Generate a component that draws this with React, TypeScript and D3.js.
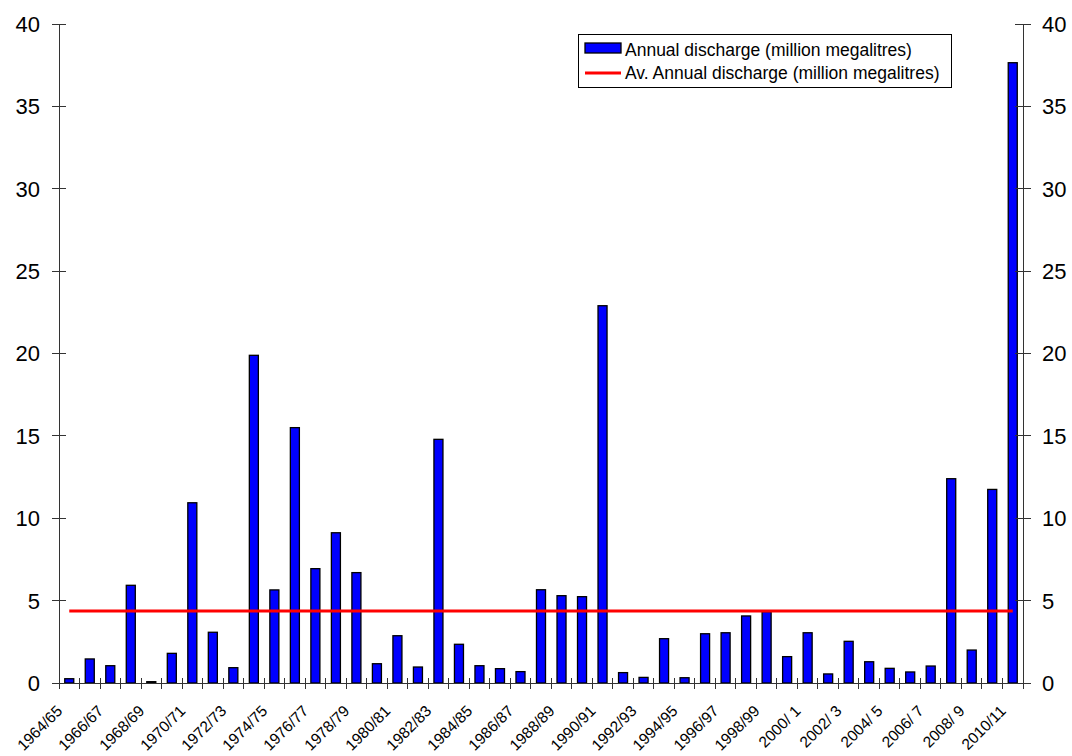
import React from "react";
import * as d3 from "d3";

// categories: water years 1964/65 .. 2010/11
const seasons = [
  "1964/65", "1965/66", "1966/67", "1967/68", "1968/69", "1969/70", "1970/71", "1971/72",
  "1972/73", "1973/74", "1974/75", "1975/76", "1976/77", "1977/78", "1978/79", "1979/80",
  "1980/81", "1981/82", "1982/83", "1983/84", "1984/85", "1985/86", "1986/87", "1987/88",
  "1988/89", "1989/90", "1990/91", "1991/92", "1992/93", "1993/94", "1994/95", "1995/96",
  "1996/97", "1997/98", "1998/99", "1999/ 0", "2000/ 1", "2001/ 2", "2002/ 3", "2003/ 4",
  "2004/ 5", "2005/ 6", "2006/ 7", "2007/ 8", "2008/ 9", "2009/10", "2010/11",
];

// annual discharge, million megalitres
const discharge = [
  0.26, 1.46, 1.05, 5.93, 0.08, 1.8, 10.94, 3.08,
  0.93, 19.89, 5.65, 15.5, 6.94, 9.12, 6.7, 1.17,
  2.87, 0.97, 14.79, 2.35, 1.05, 0.87, 0.69, 5.66,
  5.3, 5.24, 22.9, 0.63, 0.34, 2.69, 0.32, 2.99,
  3.05, 4.07, 4.33, 1.6, 3.05, 0.55, 2.53, 1.29,
  0.89, 0.67, 1.03, 12.4, 2.0, 11.75, 37.65,
];

const average = 4.37;

const yTicks = [0, 5, 10, 15, 20, 25, 30, 35, 40];

const W = 1072;
const H = 756;
const m = { top: 24, right: 49, bottom: 73, left: 59 };
const FONT = "'Liberation Sans', Arial, sans-serif";

export default function App() {
  const x = d3
    .scaleBand<string>()
    .domain(seasons)
    .range([m.left, W - m.right])
    .paddingInner(0.56)
    .paddingOuter(0.28);
  const y = d3.scaleLinear().domain([0, 40]).range([H - m.bottom, m.top]);

  const step = x.step();
  const x0 = m.left;
  const x1 = W - m.right;
  const yBase = y(0);
  const center = (s: string) => (x(s) ?? 0) + x.bandwidth() / 2;

  const avgLine = d3
    .line<string>()
    .x((s) => center(s))
    .y(() => y(average));

  return (
    <div style={{ position: "absolute", left: 0, top: 0 }}>
      <svg width={W} height={H} style={{ display: "block", background: "#fff" }}>
        {/* bars */}
        <g>
          {seasons.map((s, i) => (
            <rect
              key={s}
              x={x(s)}
              y={y(discharge[i])}
              width={x.bandwidth()}
              height={yBase - y(discharge[i])}
              fill="#0000ff"
              stroke="#000"
              strokeWidth={1.3}
            />
          ))}
        </g>

        {/* average line */}
        <path
          d={avgLine([seasons[0], seasons[seasons.length - 1]]) ?? ""}
          stroke="#ff0000"
          strokeWidth={3}
          fill="none"
        />

        {/* axes */}
        <g stroke="#333" strokeWidth={1} shapeRendering="crispEdges">
          <line x1={x0} x2={x0} y1={y(40)} y2={yBase} />
          <line x1={x1} x2={x1} y1={y(40)} y2={yBase} />
          <line x1={x0} x2={x1} y1={yBase} y2={yBase} />
          {yTicks.map((t) => (
            <g key={t}>
              <line x1={x0 - 7} x2={x0 + 7} y1={y(t)} y2={y(t)} />
              <line x1={x1 - 8} x2={x1 + 8} y1={y(t)} y2={y(t)} />
            </g>
          ))}
          {d3.range(seasons.length + 1).map((i) => (
            <line
              key={i}
              x1={x0 + i * step}
              x2={x0 + i * step}
              y1={yBase - 5}
              y2={yBase + 6}
            />
          ))}
        </g>

        {/* y tick labels */}
        <g fontFamily={FONT} fontSize={22} fill="#000">
          {yTicks.map((t) => (
            <g key={t}>
              <text x={x0 - 19} y={y(t)} dy="0.36em" textAnchor="end">
                {t}
              </text>
              <text x={x1 + 19} y={y(t)} dy="0.36em" textAnchor="start">
                {t}
              </text>
            </g>
          ))}
        </g>

        {/* category labels, every other one */}
        <g fontFamily={FONT} fontSize={15.5} fill="#000">
          {seasons.map((s, i) =>
            i % 2 === 0 ? (
              <text
                key={s}
                textAnchor="end"
                transform={`translate(${center(s) - 6},${yBase + 29}) rotate(-45)`}
                style={{ whiteSpace: "pre" }}
              >
                {s}
              </text>
            ) : null
          )}
        </g>

        {/* legend */}
        <g fontFamily={FONT} fontSize={17.5} fill="#000">
          <rect x={578.5} y={34.5} width={373} height={53} fill="#fff" stroke="#000" strokeWidth={1} />
          <rect x={585} y={43} width={36} height={10} fill="#0000ff" stroke="#000" strokeWidth={1.3} />
          <text x={625} y={56}>Annual discharge (million megalitres)</text>
          <line x1={585} x2={621} y1={73} y2={73} stroke="#ff0000" strokeWidth={3} />
          <text x={625} y={79}>Av. Annual discharge (million megalitres)</text>
        </g>
      </svg>
    </div>
  );
}
